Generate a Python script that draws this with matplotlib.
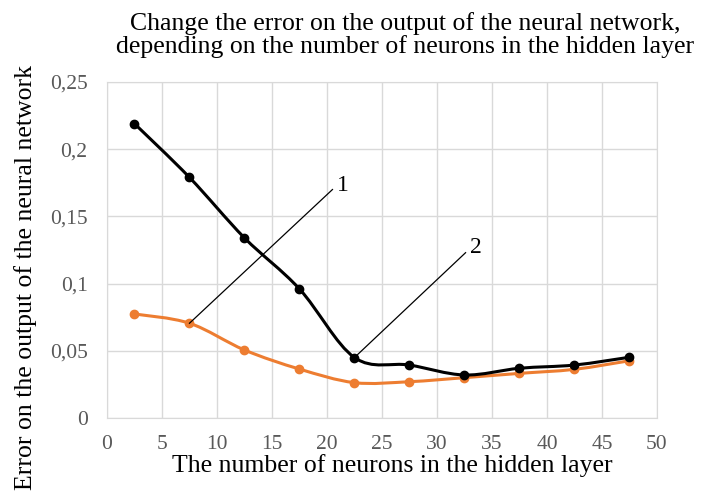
import matplotlib.pyplot as plt
from matplotlib.path import Path
from matplotlib.patches import PathPatch

plt.rcParams['font.family'] = ['Liberation Serif', 'DejaVu Serif']

neurons = [2.5, 7.5, 12.5, 17.5, 22.5, 27.5, 32.5, 37.5, 42.5, 47.5]
error_2 = [0.219, 0.179, 0.134, 0.096, 0.045, 0.0394, 0.032, 0.037, 0.0394, 0.0452]
error_1 = [0.0774, 0.0705, 0.0506, 0.0364, 0.0263, 0.027, 0.030, 0.0332, 0.0362, 0.0426]
yticks = [0, 0.05, 0.1, 0.15, 0.2, 0.25]
ytick_labels = ['0', '0,05', '0,1', '0,15', '0,2', '0,25']


def smooth_path(xs, ys, t=0.5):
    # Catmull-Rom style Bezier segments, like Excel's smoothed line
    verts = [(xs[0], ys[0])]
    codes = [Path.MOVETO]
    n = len(xs)
    for i in range(n - 1):
        x0, y0 = (xs[i - 1], ys[i - 1]) if i > 0 else (xs[i], ys[i])
        x1, y1 = xs[i], ys[i]
        x2, y2 = xs[i + 1], ys[i + 1]
        x3, y3 = (xs[i + 2], ys[i + 2]) if i + 2 < n else (x2, y2)
        c1 = (x1 + (x2 - x0) * t / 3, y1 + (y2 - y0) * t / 3)
        c2 = (x2 - (x3 - x1) * t / 3, y2 - (y3 - y1) * t / 3)
        verts += [c1, c2, (x2, y2)]
        codes += [Path.CURVE4] * 3
    return Path(verts, codes)


fig = plt.figure(figsize=(7.01, 4.91), dpi=100)
ax = fig.add_axes([0.1526, 0.1487, 0.7846, 0.6843])

grid_c = '#d9d9d9'
ax.set_xlim(0, 50)
ax.set_ylim(0, 0.25)
ax.set_xticks(range(0, 51, 5))
ax.set_yticks(yticks)
ax.set_yticklabels(ytick_labels)
ax.grid(True, color=grid_c, lw=1)
ax.set_axisbelow(True)
for s in ax.spines.values():
    s.set_color(grid_c)
ax.tick_params(length=0, labelsize=15.5, colors='#595959')
ax.tick_params(axis='x', pad=12)
ax.tick_params(axis='y', pad=14)

ax.add_patch(PathPatch(smooth_path(neurons, error_1), fill=False, color='#ED7D31', lw=2.2))
ax.plot(neurons, error_1, 'o', color='#ED7D31', ms=6)
ax.add_patch(PathPatch(smooth_path(neurons, error_2), fill=False, color='black', lw=2.2))
ax.plot(neurons, error_2, 'o', color='black', ms=6)

ax.plot([7.5, 20.5], [error_1[1], 0.170], color='black', lw=0.9)
ax.text(20.9, 0.173, '1', fontsize=17, ha='left', va='center')
ax.plot([22.5, 32.6], [error_2[4], 0.123], color='black', lw=0.9)
ax.text(33.0, 0.127, '2', fontsize=17, ha='left', va='center')

fig.text(0.578, 0.975, 'Change the error on the output of the neural network,\n'
         'depending on the number of neurons in the hidden layer',
         ha='center', va='top', fontsize=18.5, linespacing=1.0)
fig.text(0.56, 0.051, 'The number of neurons in the hidden layer',
         ha='center', va='center', fontsize=18.5)
fig.text(0.036, 0.434, 'Error on the output of the neural network',
         ha='center', va='center', rotation=90, fontsize=18.5)

fig.savefig('out.png', dpi=100)
